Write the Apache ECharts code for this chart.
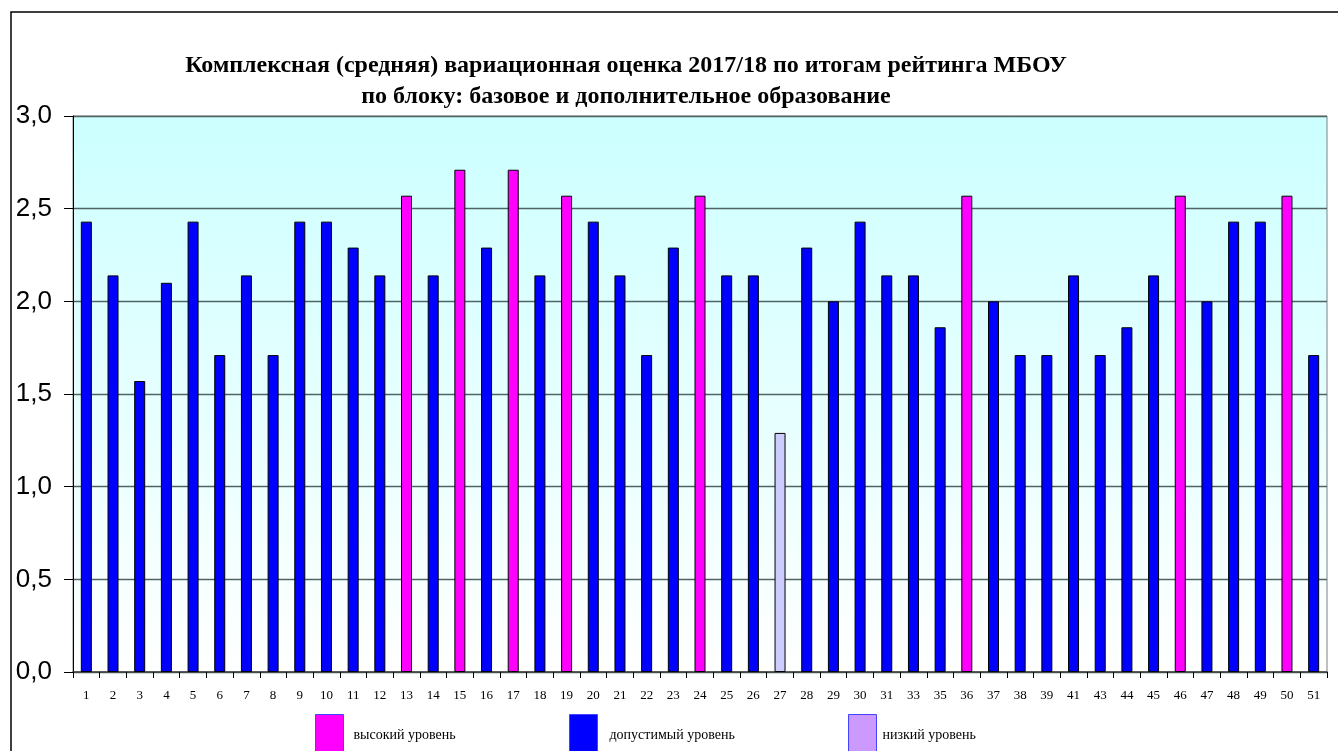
<!DOCTYPE html>
<html>
<head>
<meta charset="utf-8">
<script src="https://cdn.jsdelivr.net/npm/echarts@6/dist/echarts.min.js"></script>
<style>
  html, body { margin: 0; padding: 0; background: #ffffff; }
  #chart { width: 1338px; height: 751px; }
</style>
</head>
<body>
<div id="chart"></div>
<script>
// School numbers (MBOU) along the x axis
const schools = ['1','2','3','4','5','6','7','8','9','10','11','12','13','14','15','16','17','18','19','20',
  '21','22','23','24','25','26','27','28','29','30','31','33','35','36','37','38','39','41','43','44',
  '45','46','47','48','49','50','51'];

// Complex (average) variation score per school
const scores = [2.43, 2.14, 1.57, 2.10, 2.43, 1.71, 2.14, 1.71, 2.43, 2.43, 2.29, 2.14, 2.57, 2.14, 2.71, 2.29, 2.71, 2.14, 2.57, 2.43,
  2.14, 1.71, 2.29, 2.57, 2.14, 2.14, 1.29, 2.29, 2.00, 2.43, 2.14, 2.14, 1.86, 2.57, 2.00, 1.71, 1.71, 2.14, 1.71, 1.86,
  2.14, 2.57, 2.00, 2.43, 2.43, 2.57, 1.71];

// Level of each school: h = high, m = acceptable, l = low
const levels = ['m','m','m','m','m','m','m','m','m','m','m','m','h','m','h','m','h','m','h','m',
  'm','m','m','h','m','m','l','m','m','m','m','m','m','h','m','m','m','m','m','m',
  'm','h','m','m','m','h','m'];

const levelNames = { h: 'высокий уровень', m: 'допустимый уровень', l: 'низкий уровень' };
const levelColors = { h: '#FF00FF', m: '#0000FF', l: '#CCCCFF' };
const legendSwatch = { h: '#FF00FF', m: '#0000FF', l: '#CC99FF' };

const yTicks = [0, 0.5, 1, 1.5, 2, 2.5, 3];

const chart = echarts.init(document.getElementById('chart'));

const series = ['h', 'm', 'l'].map(lvl => ({
  name: levelNames[lvl],
  type: 'bar',
  barWidth: 11,
  barGap: '-100%',
  data: scores.map((v, i) => (levels[i] === lvl ? v : '-')),
  itemStyle: { color: levelColors[lvl], borderColor: '#000000', borderWidth: 1 },
  emphasis: { disabled: true }
}));

function legendAt(lvl, left) {
  return {
    left: left,
    top: 709,
    orient: 'horizontal',
    itemWidth: 28,
    itemHeight: 42,
    icon: 'rect',
    selectedMode: false,
    data: [{
      name: levelNames[lvl],
      itemStyle: { color: legendSwatch[lvl], borderColor: '#4444ff', borderWidth: 1 }
    }],
    textStyle: {
      fontFamily: 'Liberation Serif, Times New Roman, serif',
      fontSize: 14,
      color: '#000000',
      padding: [0, 0, 0, lvl === 'l' ? 1 : (lvl === 'm' ? 7 : 5)]
    }
  };
}

chart.setOption({
  animation: false,
  backgroundColor: '#ffffff',
  title: {
    text: 'Комплексная (средняя) вариационная оценка 2017/18 по итогам рейтинга МБОУ\nпо блоку: базовое и дополнительное образование',
    left: 621,
    top: 45,
    textAlign: 'center',
    textStyle: {
      fontFamily: 'Liberation Serif, Times New Roman, serif',
      fontWeight: 'bold',
      fontSize: 24,
      lineHeight: 31,
      color: '#000000'
    }
  },
  legend: [legendAt('h', 310), legendAt('m', 564), legendAt('l', 843)],
  grid: {
    left: 73,
    right: 11,
    top: 116,
    bottom: 79,
    show: true,
    borderColor: '#808080',
    borderWidth: 1,
    backgroundColor: new echarts.graphic.LinearGradient(0, 0, 0, 1, [
      { offset: 0, color: '#CCFFFF' },
      { offset: 1, color: '#FFFFFF' }
    ])
  },
  xAxis: {
    type: 'category',
    data: schools,
    axisLine: { lineStyle: { color: '#404040', width: 1.5 } },
    axisTick: { show: true, length: 6, interval: 0, alignWithLabel: false, lineStyle: { color: '#000000' } },
    axisLabel: {
      interval: 0,
      margin: 17,
      fontFamily: 'Liberation Serif, Times New Roman, serif',
      fontSize: 13,
      color: '#000000'
    },
    splitLine: { show: false }
  },
  yAxis: {
    type: 'value',
    min: yTicks[0],
    max: yTicks[yTicks.length - 1],
    interval: 0.5,
    axisLine: { show: true, lineStyle: { color: '#000000', width: 1 } },
    axisTick: { show: true, length: 9, lineStyle: { color: '#000000' } },
    axisLabel: {
      margin: 21,
      padding: [5, 0, 0, 0],
      fontFamily: 'Liberation Sans, Arial, sans-serif',
      fontSize: 26,
      color: '#000000',
      formatter: v => v.toFixed(1).replace('.', ',')
    },
    splitLine: { show: true, lineStyle: { color: '#4F6363', width: 1.3 } }
  },
  graphic: [{
    type: 'rect',
    shape: { x: 11, y: 12, width: 1340, height: 800 },
    style: { fill: 'none', stroke: '#000000', lineWidth: 1.5 },
    silent: true
  }],
  series: series
});
</script>
</body>
</html>
